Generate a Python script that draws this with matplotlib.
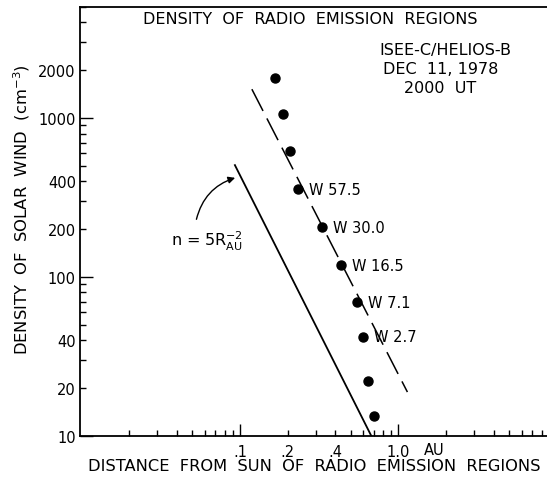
import matplotlib.pyplot as plt
import matplotlib.ticker as mticker
import numpy as np

plt.rcParams['font.family'] = ['DejaVu Sans']
plt.rcParams['mathtext.default'] = 'regular'

# =========================
# data
# =========================
dist_au = [0.167, 0.187, 0.207, 0.233, 0.330, 0.436, 0.550, 0.600, 0.646, 0.705]
density = [1786, 1060, 620, 357, 206, 119, 69.6, 42, 22.2, 13.4]

freq_labels = ["", "", "", "W 57.5", "W 30.0", "W 16.5", "W 7.1", "W 2.7", "", ""]

# n = 5 R^-2 model line (end points)
model_r = [0.093, 0.675]
model_n = [506, 10]

# dashed fit line (end points)
fit_r = [0.119, 1.14]
fit_n = [1520, 18.9]

xtick_vals = [0.1, 0.2, 0.4, 1.0]
xtick_text = [".1", ".2", ".4", "1.0"]
ytick_vals = [10, 20, 40, 100, 200, 400, 1000, 2000]
ytick_text = ["10", "20", "40", "100", "200", "400", "1000", "2000"]

# =========================
# figure
# =========================
W, H = 547, 481
fig = plt.figure(figsize=(W / 100, H / 100), dpi=100)
ax = fig.add_axes([80 / W, 1 - 437 / H, (W - 80) / W, (437 - 8) / H])

ax.set_xscale("log")
ax.set_yscale("log")
ax.set_xlim(0.0098, 8.66)
ax.set_ylim(10, 5000)

ax.plot(dist_au, density, "o", color="black", markersize=6.5, zorder=3)
ax.plot(model_r, model_n, "-", color="black", lw=1.3)
dash, = ax.plot(fit_r, fit_n, "-", color="black", lw=1.1)
dash.set_dashes((16, 5.5))

for r, n, lab in zip(dist_au, density, freq_labels):
    if lab:
        ax.annotate(lab, (r, n), xytext=(8, 0), textcoords="offset points",
                    ha="left", va="center", fontsize=10.5)

# spines / ticks
ax.spines["right"].set_visible(False)
for s in ["left", "bottom", "top"]:
    ax.spines[s].set_linewidth(1.3)

ax.set_xticks(xtick_vals)
ax.set_xticklabels(xtick_text)
ax.set_yticks(ytick_vals)
ax.set_yticklabels(ytick_text)
ax.xaxis.set_minor_locator(mticker.LogLocator(base=10, subs=np.arange(2, 10)))
ax.yaxis.set_minor_locator(mticker.LogLocator(base=10, subs=np.arange(2, 10)))
ax.xaxis.set_minor_formatter(mticker.NullFormatter())
ax.yaxis.set_minor_formatter(mticker.NullFormatter())

ax.tick_params(which="both", direction="in", width=1, labelsize=10.5, top=False, right=False)
ax.tick_params(which="minor", length=4)
ax.tick_params(which="major", length=4, pad=6)
ax.tick_params(axis="y", pad=3)
# decades get the long ticks
for t, v in zip(ax.yaxis.get_major_ticks(), ytick_vals):
    if v in (10, 100, 1000):
        t.tick1line.set_markersize(9)
for t, v in zip(ax.xaxis.get_major_ticks(), xtick_vals):
    if v in (0.1, 1.0):
        t.tick1line.set_markersize(9)

fig.text(424 / W, 1 - 451 / H, "AU", ha="left", va="center", fontsize=10.5)

# annotation with curved arrow
ax.annotate("", xy=(0.097, 426), xytext=(0.0527, 222),
            arrowprops=dict(arrowstyle="-|>", color="black", lw=1,
                            connectionstyle="arc3,rad=-0.3", mutation_scale=10))
fig.text(207 / W, 1 - 241 / H, r"n = 5R$_{AU}^{-2}$", ha="center", va="center", fontsize=11.5)

# titles / labels
fig.text(310 / W, 1 - 19 / H, "DENSITY  OF  RADIO  EMISSION  REGIONS", ha="center", va="center", fontsize=11.5)
fig.text(445 / W, 1 - 50 / H, "ISEE-C/HELIOS-B", ha="center", va="center", fontsize=11.5)
fig.text(441 / W, 1 - 70 / H, "DEC  11, 1978", ha="center", va="center", fontsize=11.5)
fig.text(440 / W, 1 - 89 / H, "2000  UT", ha="center", va="center", fontsize=11.5)

fig.text(314 / W, 1 - 467 / H, "DISTANCE  FROM  SUN  OF  RADIO  EMISSION  REGIONS",
         ha="center", va="center", fontsize=11.7)
fig.text(22 / W, 1 - 210 / H, r"DENSITY  OF  SOLAR  WIND  (cm$^{-3}$)",
         ha="center", va="center", rotation=90, fontsize=11.8)

fig.savefig("out.png", dpi=100)
